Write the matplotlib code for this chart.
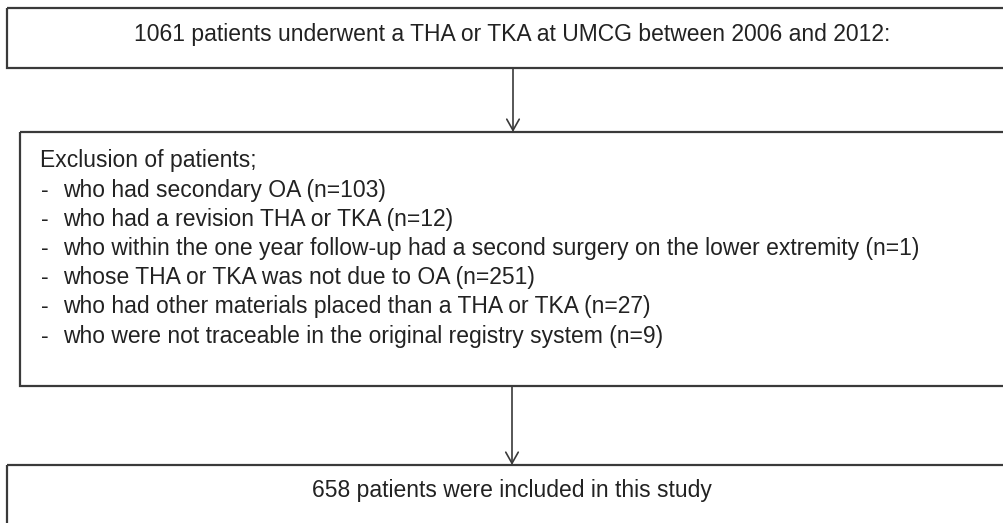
import matplotlib.pyplot as plt
from matplotlib.patches import Rectangle

plt.rcParams['font.family'] = ['Liberation Sans', 'DejaVu Sans']

# flowchart content
n_total = 1061
n_included = 658
top_text = f"{n_total} patients underwent a THA or TKA at UMCG between 2006 and 2012:"
excl_title = "Exclusion of patients;"
excl_reasons = [
    "who had secondary OA",
    "who had a revision THA or TKA",
    "who within the one year follow-up had a second surgery on the lower extremity",
    "whose THA or TKA was not due to OA",
    "who had other materials placed than a THA or TKA",
    "who were not traceable in the original registry system",
]
excl_counts = [103, 12, 1, 251, 27, 9]
bottom_text = f"{n_included} patients were included in this study"

W, H = 1004, 523
fig = plt.figure(figsize=(W / 100, H / 100), dpi=100)
ax = fig.add_axes([0, 0, 1, 1])
ax.set_xlim(0, W)
ax.set_ylim(H, 0)
ax.axis('off')

edge = '#3a3a3a'
txt = '#222222'
fs = 16.5

# boxes - right/bottom edges run off the page
ax.add_patch(Rectangle((7, 8), 1010, 60, fill=False, ec=edge, lw=1.6))
ax.add_patch(Rectangle((20, 132), 1000, 254, fill=False, ec=edge, lw=1.6))
ax.add_patch(Rectangle((7, 465), 1010, 80, fill=False, ec=edge, lw=1.6))

# arrows
arrow = dict(arrowstyle='->,head_length=0.8,head_width=0.45', color=edge, lw=1.2,
             shrinkA=0, shrinkB=0)
ax.annotate('', xy=(513, 132), xytext=(513, 68), arrowprops=arrow)
ax.annotate('', xy=(512, 465), xytext=(512, 386), arrowprops=arrow)

ax.text(512, 35, top_text, ha='center', va='center', fontsize=fs, color=txt)
ax.text(40, 160, excl_title, ha='left', va='center', fontsize=fs, color=txt)
for i, (reason, n) in enumerate(zip(excl_reasons, excl_counts)):
    y = 190 + i * 29.2
    ax.text(41, y, "-", ha='left', va='center', fontsize=fs, color=txt)
    ax.text(63, y, f"{reason} (n={n})", ha='left', va='center', fontsize=fs, color=txt)
ax.text(512, 491, bottom_text, ha='center', va='center', fontsize=fs, color=txt)

fig.savefig('out.png', dpi=100)
